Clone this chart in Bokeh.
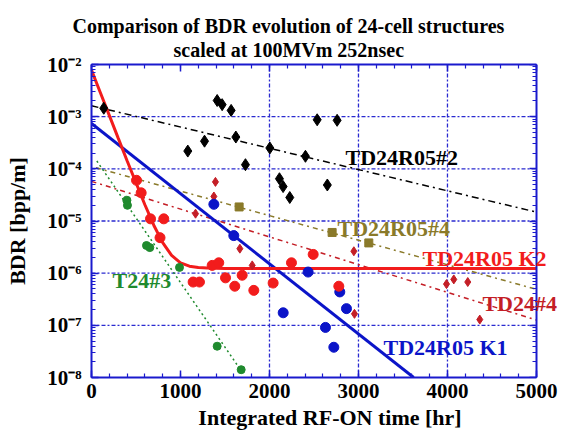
from bokeh.plotting import figure
from bokeh.models import (LinearAxis, LogAxis, SingleIntervalTicker, Title,
                          LogTicker, Label, CustomJSTickFormatter, CustomLabelingPolicy)
from bokeh.embed import file_html
from bokeh.resources import INLINE

FONT = "Liberation Serif"

# ---- measured data (integrated RF-on time [hr], BDR [bpp/m]) ----
td24r05_2_t = [138, 1412, 1468, 1569, 1082, 1270, 1622, 1730, 2004, 2112, 2153, 2228, 2404, 2536, 2650, 2760]
td24r05_2_bdr = [1.45e-3, 2.04e-3, 1.70e-3, 1.32e-3, 2.19e-4, 3.39e-4, 4.07e-4, 1.20e-4, 2.51e-4,
                 6.46e-5, 4.57e-5, 2.82e-5, 1.74e-4, 8.71e-4, 4.90e-5, 8.51e-4]

td24r05_4_t = [1659, 2704, 3116]
td24r05_4_bdr = [1.86e-5, 6.03e-6, 3.80e-6]

td24r05_k2_t = [506, 558, 663, 812, 770, 1142, 1213, 1356, 1430, 1506, 1610, 1693, 1824, 2041, 2247, 2491, 2779]
td24r05_k2_bdr = [6.03e-5, 3.47e-5, 1.10e-5, 1.10e-5, 4.79e-6, 6.76e-7, 6.76e-7, 1.41e-6, 1.58e-6,
                  8.13e-7, 5.62e-7, 9.12e-7, 4.68e-7, 6.46e-7, 1.58e-6, 2.29e-6, 5.62e-7]

td24r05_k1_t = [1375, 1599, 2154, 2434, 2629, 2723, 2790, 2865]
td24r05_k1_bdr = [2.09e-5, 5.25e-6, 1.74e-7, 1.05e-6, 9.12e-8, 3.80e-8, 4.37e-7, 2.09e-7]

t24_3_t = [398, 404, 618, 655, 989, 1412, 1682]
t24_3_bdr = [2.5e-5, 2.0e-5, 3.39e-6, 3.09e-6, 1.29e-6, 3.98e-8, 1.41e-8]

td24_4_t = [1169, 1375, 1393, 1667, 1806, 2948, 2955, 3989, 4071, 4228, 4363]
td24_4_bdr = [1.38e-5, 2.95e-5, 5.62e-5, 2.95e-6, 1.41e-6, 2.63e-6, 1.66e-7, 6.17e-7, 7.59e-7, 6.76e-7, 1.29e-7]

# ---- fitted trends ----
fit_td24r05_2_t = [0, 5000]
fit_td24r05_2_bdr = [1.62e-3, 1.48e-5]

fit_td24r05_4_t = [50, 5000]
fit_td24r05_4_bdr = [1.05e-4, 4.9e-7]

fit_td24_4_t = [0, 5000]
fit_td24_4_bdr = [5.75e-5, 1.26e-7]

fit_t24_3_t = [60, 1690]
fit_t24_3_bdr = [1.41e-4, 1.29e-8]

fit_k1_t = [0, 3620]
fit_k1_bdr = [7.41e-4, 1.0e-8]

fit_k2_t = [0, 100, 200, 300, 400, 500, 600, 700, 800, 900, 1000, 1100, 1200, 1300, 1500, 5000]
fit_k2_bdr = [7.8e-3, 2.87e-3, 1.06e-3, 3.88e-4, 1.43e-4, 5.4e-5, 2.05e-5, 8.3e-6, 3.85e-6,
              2.19e-6, 1.58e-6, 1.36e-6, 1.28e-6, 1.25e-6, 1.23e-6, 1.23e-6]

# ---- axes extent and grid positions ----
T_MIN, T_MAX = 0, 5000
BDR_MIN, BDR_MAX = 1e-8, 1e-2
grid_t = [2000, 3000, 4000]
grid_bdr = [1e-7, 1e-6, 1e-5, 1e-4, 1e-3]

BLUE = "#0B14C8"
RED = "#F21C1C"
DARKRED = "#C41E26"
GREEN = "#1F8A2E"
OLIVE = "#8A7A2A"
BLACK = "#000000"
FRAME = "#1A1ACD"
GRID = "#2A2AD0"

# The drawing area reaches a little past t = 5000 so that the series names near
# the right edge are not clipped; the box itself is drawn by bounded axes.
p = figure(width=578, height=432, x_range=(0, 5360), y_range=(BDR_MIN, BDR_MAX),
           y_axis_type="log", output_backend="svg", toolbar_location=None,
           min_border_left=91, min_border_right=10, min_border_top=64, min_border_bottom=55)
p.background_fill_color = "white"
p.border_fill_color = "white"
p.outline_line_color = None
p.xgrid.visible = False
p.ygrid.visible = False

# two-line heading, shifted left so that it is centred on the whole figure
p.title.text = "Comparison of BDR evolution of 24-cell structures"
p.title.offset = -19
sub = Title(text="scaled at 100MVm 252nsec", offset=82)
for t in (p.title, sub):
    t.align = "left"
    t.standoff = 0
    t.text_font = FONT
    t.text_font_style = "bold"
    t.text_font_size = "20px"
    t.text_color = "black"

def style_axis(ax):
    ax.axis_line_color = FRAME
    ax.axis_line_width = 2
    ax.major_tick_line_color = FRAME
    ax.minor_tick_line_color = FRAME
    ax.major_tick_line_width = 1.5
    ax.minor_tick_line_width = 1.2
    ax.major_tick_in = 7
    ax.major_tick_out = 0
    ax.minor_tick_in = 4
    ax.minor_tick_out = 0

p.xaxis.ticker = SingleIntervalTicker(interval=1000, num_minor_ticks=5)
p.yaxis.ticker = LogTicker(num_minor_ticks=10)
p.xaxis.bounds = (T_MIN, T_MAX)
p.yaxis.formatter = CustomJSTickFormatter(code="""
const e = Math.round(Math.log10(tick));
const sup = {'-':'\u207B','0':'\u2070','1':'\u00B9','2':'\u00B2','3':'\u00B3','4':'\u2074',
             '5':'\u2075','6':'\u2076','7':'\u2077','8':'\u2078','9':'\u2079'};
return '10' + String(e).split('').map(c => sup[c]).join('');
""")
for ax in (p.xaxis[0], p.yaxis[0]):
    style_axis(ax)
    ax.major_label_text_font = FONT
    ax.major_label_text_font_style = "bold"
    ax.major_label_text_font_size = "21px"
    ax.major_label_text_color = "black"
    ax.axis_label_text_font = FONT
    ax.axis_label_text_font_style = "bold"
    ax.axis_label_text_font_size = "22px"
    ax.axis_label_text_color = "black"

p.xaxis.axis_label = "Integrated RF-ON time [hr]"
p.yaxis.axis_label = "BDR [bpp/m]"
p.xaxis.major_label_standoff = 6
p.xaxis.axis_label_standoff = 4
p.yaxis.major_label_standoff = 10
p.yaxis.axis_label_standoff = 14

# tick-only axes closing the box on top and right
hide_labels = CustomLabelingPolicy(code="""
for (const i of indices) { indices.unset(i) }
return indices
""")
top = LinearAxis(ticker=SingleIntervalTicker(interval=1000, num_minor_ticks=5),
                 bounds=(T_MIN, T_MAX))
right = LogAxis(ticker=LogTicker(num_minor_ticks=10), fixed_location=T_MAX)
for ax in (top, right):
    style_axis(ax)
    ax.major_label_policy = hide_labels
    ax.major_label_text_font_size = "1px"
    ax.major_label_standoff = 0
p.add_layout(top, "above")
p.add_layout(sub, "above")
p.add_layout(right, "right")

# dotted grid inside the box
p.segment(x0=grid_t, y0=[BDR_MIN] * len(grid_t), x1=grid_t, y1=[BDR_MAX] * len(grid_t),
          line_color=GRID, line_width=1.3, line_dash="4 2 2 2")
p.segment(x0=[T_MIN] * len(grid_bdr), y0=grid_bdr, x1=[T_MAX] * len(grid_bdr), y1=grid_bdr,
          line_color=GRID, line_width=1.3, line_dash="4 2 2 2")

# trend lines
p.line(fit_td24r05_2_t, fit_td24r05_2_bdr, line_color=BLACK, line_width=1.5, line_dash="7 4 2 4")
p.line(fit_td24r05_4_t, fit_td24r05_4_bdr, line_color=OLIVE, line_width=1.5, line_dash="5 4 2 4")
p.line(fit_td24_4_t, fit_td24_4_bdr, line_color=DARKRED, line_width=1.5, line_dash="5 4 2 4")
p.line(fit_t24_3_t, fit_t24_3_bdr, line_color=GREEN, line_width=1.5, line_dash="2 3")
p.line(fit_k1_t, fit_k1_bdr, line_color=BLUE, line_width=3)
p.line(fit_k2_t, fit_k2_bdr, line_color=RED, line_width=3)

# measured points
p.scatter(td24r05_2_t, td24r05_2_bdr, marker="diamond", size=12, color=BLACK)
p.scatter(td24r05_4_t, td24r05_4_bdr, marker="square", size=8, color=OLIVE)
p.scatter(td24_4_t, td24_4_bdr, marker="diamond", size=9, color=DARKRED)
p.scatter(t24_3_t, t24_3_bdr, marker="circle", size=8, color=GREEN)
p.scatter(td24r05_k1_t, td24r05_k1_bdr, marker="circle", size=10, color=BLUE)
p.scatter(td24r05_k2_t, td24r05_k2_bdr, marker="circle", size=10, color=RED)

# series names
def tag(x, y, text, color):
    p.add_layout(Label(x=x, y=y, text=text, text_color=color, text_font=FONT,
                       text_font_style="bold", text_font_size="22px",
                       text_baseline="middle", text_align="left"))

tag(2854, 10 ** -3.78, "TD24R05#2", BLACK)
tag(2764, 10 ** -5.14, "TD24R05#4", OLIVE)
tag(3719, 10 ** -5.72, "TD24R05 K2", RED)
tag(4393, 10 ** -6.58, "TD24#4", DARKRED)
tag(3281, 10 ** -7.42, "TD24R05 K1", BLUE)
tag(236, 10 ** -6.14, "T24#3", GREEN)

open("out.html", "w").write(file_html(p, INLINE))
